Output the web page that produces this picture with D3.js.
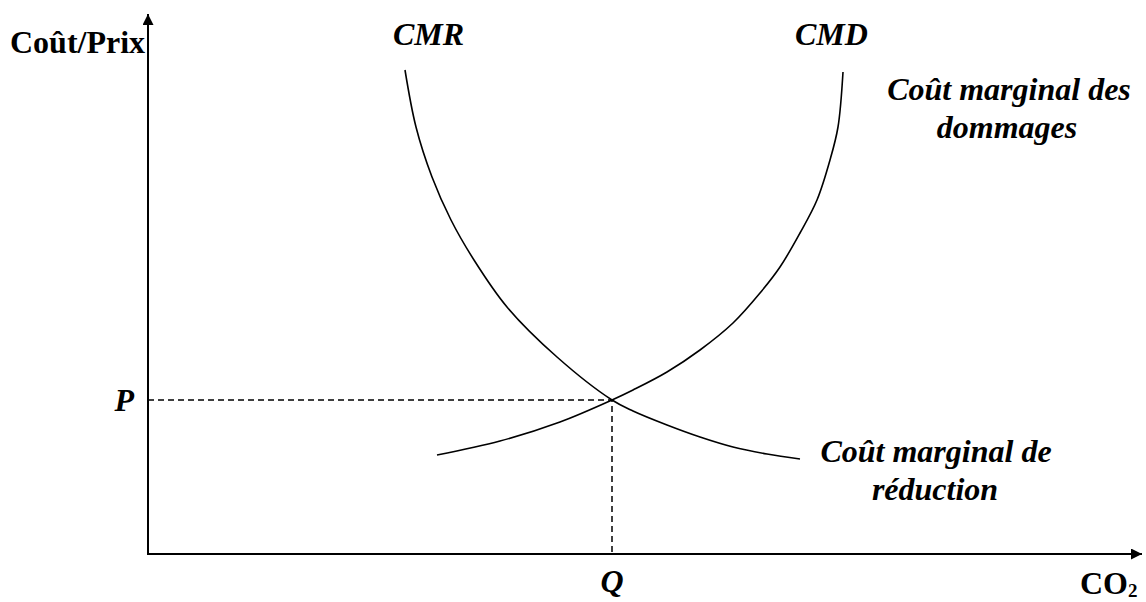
<!DOCTYPE html>
<html>
<head>
  <meta charset="utf-8">
  <script src="https://d3js.org/d3.v7.min.js"></script>
  <style type="text/css">
  body{
    margin: 0;
    background: #fff;
  }
  svg{
    display: block;
  }
  text{
    font-family: "Liberation Serif", "Times New Roman", serif;
    font-weight: bold;
    fill: #000;
  }
  .lbl{
    font-style: italic;
  }
  </style>
</head>
<body>
  <script type="text/javascript">
    // abatement cost curve (CMR)
    var cmrX = [257, 268, 284, 303, 326, 359, 409, 464, 485, 519, 552, 585, 619, 652];
    var cmrY = [484, 427, 377, 334, 294, 247, 197, 154, 143, 129, 117, 107, 100, 95];
    // damage cost curve (CMD)
    var cmdX = [289, 352, 412, 464, 485, 519, 552, 585, 612, 632, 652, 669, 682, 690, 695];
    var cmdY = [99, 113, 132, 154, 164, 182, 204, 231, 261, 287, 321, 354, 394, 427, 482];
    // equilibrium
    var eqQ = 464, eqP = 154;
    var xMax = 994, yMax = 540;

    var width = 1146, height = 602;
    var svg = d3.select("body").append("svg")
      .attr("width", width)
      .attr("height", height);

    var x = d3.scaleLinear().domain([0, xMax]).range([148, 1142]);
    var y = d3.scaleLinear().domain([0, yMax]).range([554, 14]);

    // arrow heads
    svg.append("defs").append("marker")
      .attr("id", "arrow")
      .attr("viewBox", "0 0 10 10")
      .attr("refX", 10)
      .attr("refY", 5)
      .attr("markerWidth", 6)
      .attr("markerHeight", 5.5)
      .attr("markerUnits", "strokeWidth")
      .attr("orient", "auto")
      .append("path")
      .attr("d", "M0,0L10,5L0,10z")
      .attr("fill", "#000");

    // axes
    svg.append("line")
      .attr("x1", x(0)).attr("y1", y(0))
      .attr("x2", x(xMax)).attr("y2", y(0))
      .attr("stroke", "#000").attr("stroke-width", 2)
      .attr("marker-end", "url(#arrow)");
    svg.append("line")
      .attr("x1", x(0)).attr("y1", y(0) + 1)
      .attr("x2", x(0)).attr("y2", y(yMax))
      .attr("stroke", "#000").attr("stroke-width", 2)
      .attr("marker-end", "url(#arrow)");

    // dashed guides
    svg.append("path")
      .attr("d", "M" + x(0) + "," + y(eqP) + "H" + x(eqQ) + "V" + y(0))
      .attr("fill", "none")
      .attr("stroke", "#000")
      .attr("stroke-width", 1.5)
      .attr("stroke-dasharray", "6,4");

    // curves
    var line = d3.line()
      .x(function(d) { return x(d[0]); })
      .y(function(d) { return y(d[1]); })
      .curve(d3.curveCatmullRom.alpha(0.5));

    [d3.zip(cmrX, cmrY), d3.zip(cmdX, cmdY)].forEach(function(pts) {
      svg.append("path")
        .attr("d", line(pts))
        .attr("fill", "none")
        .attr("stroke", "#000")
        .attr("stroke-width", 1.6);
    });

    // labels
    var fs = "32px";
    svg.append("text").attr("x", 10).attr("y", 53)
      .style("font-size", fs).text("Coût/Prix");

    svg.append("text").attr("class", "lbl").attr("x", 393).attr("y", 45)
      .style("font-size", fs).text("CMR");
    svg.append("text").attr("class", "lbl").attr("x", 795).attr("y", 45)
      .style("font-size", fs).text("CMD");

    svg.append("text").attr("class", "lbl").attr("x", 1009).attr("y", 100)
      .attr("text-anchor", "middle").style("font-size", fs).text("Coût marginal des");
    svg.append("text").attr("class", "lbl").attr("x", 1007).attr("y", 138)
      .attr("text-anchor", "middle").style("font-size", fs).text("dommages");

    svg.append("text").attr("class", "lbl").attr("x", 936).attr("y", 462)
      .attr("text-anchor", "middle").style("font-size", fs).text("Coût marginal de");
    svg.append("text").attr("class", "lbl").attr("x", 935).attr("y", 500)
      .attr("text-anchor", "middle").style("font-size", fs).text("réduction");

    svg.append("text").attr("class", "lbl").attr("x", 134).attr("y", 411)
      .attr("text-anchor", "end").style("font-size", fs).text("P");
    svg.append("text").attr("class", "lbl").attr("x", x(eqQ)).attr("y", 592)
      .attr("text-anchor", "middle").style("font-size", fs).text("Q");

    var co2 = svg.append("text").attr("x", 1080).attr("y", 594)
      .style("font-size", fs);
    co2.append("tspan").text("CO");
    co2.append("tspan").attr("dy", 3).style("font-size", "19px").text("2");
  </script>
</body>
</html>
